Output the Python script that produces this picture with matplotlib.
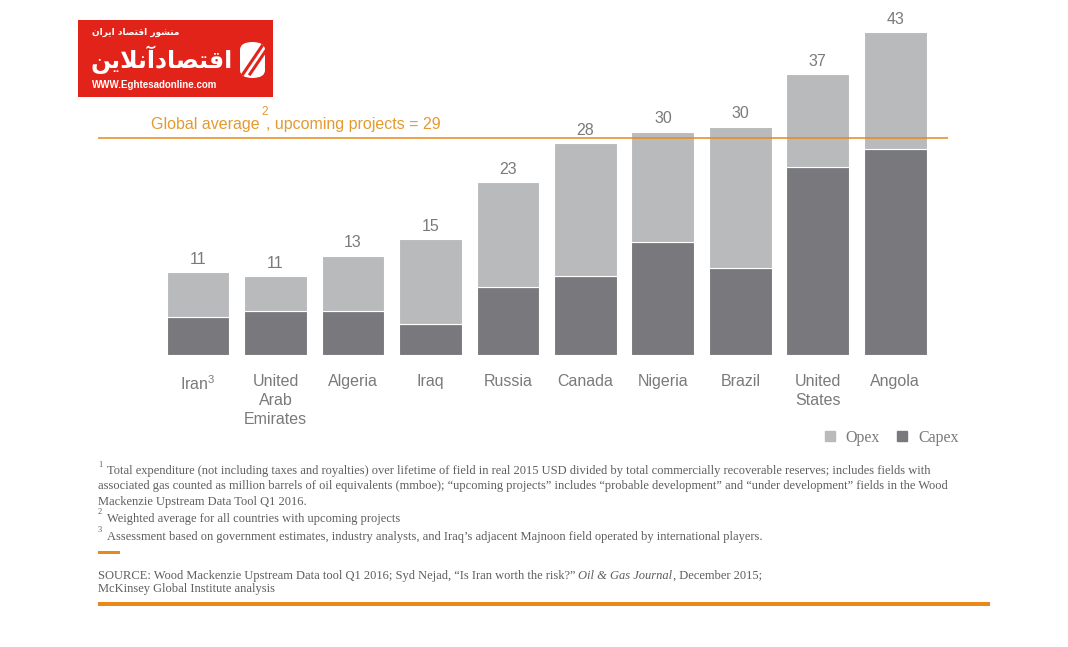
import numpy as np
import matplotlib
matplotlib.use('Agg')
import matplotlib.pyplot as plt
from matplotlib.patches import Rectangle, FancyBboxPatch
from matplotlib.lines import Line2D

# ---------------------------------------------------------------------
# data
# ---------------------------------------------------------------------
countries = ['Iran$^{3}$', 'United\nArab\nEmirates', 'Algeria', 'Iraq', 'Russia',
             'Canada', 'Nigeria', 'Brazil', 'United\nStates', 'Angola']
capex = [5.1, 5.9, 5.9, 4.1, 9.1, 10.5, 15.0, 11.6, 25.0, 27.4]
total = [11.0, 10.5, 13.2, 15.4, 23.0, 28.2, 29.7, 30.4, 37.4, 43.0]
total_labels = ['11', '11', '13', '15', '23', '28', '30', '30', '37', '43']
global_avg = 28.9

footnote_1 = [
    'Total expenditure (not including taxes and royalties) over lifetime of field in real 2015 USD divided by total commercially recoverable reserves; includes fields with',
    'associated gas counted as million barrels of oil equivalents (mmboe); \u201cupcoming projects\u201d includes \u201cprobable development\u201d and \u201cunder development\u201d fields in the Wood',
    'Mackenzie Upstream Data Tool Q1 2016.',
]
footnote_2 = 'Weighted average for all countries with upcoming projects'
footnote_3 = 'Assessment based on government estimates, industry analysts, and Iraq\u2019s adjacent Majnoon field operated by international players.'
source_1 = ['SOURCE: Wood Mackenzie Upstream Data tool Q1 2016; Syd Nejad, \u201cIs Iran worth the risk?\u201d',
            'Oil & Gas Journal', ', December 2015;']
source_2 = 'McKinsey Global Institute analysis'

logo_top = '\u0645\u0646\u0634\u0648\u0631 \u0627\u0642\u062a\u0635\u0627\u062f \u0627\u06cc\u0631\u0627\u0646'
logo_big = '\u0627\u0642\u062a\u0635\u0627\u062f\u0622\u0646\u0644\u0627\u06cc\u0646'
logo_url = 'WWW.Eghtesadonline.com'

OPEX = '#B9BABC'
CAPEX = '#79797D'
GREY_TXT = '#7A7A7A'
ORANGE = '#E8891A'
ORANGE_TXT = '#E39A30'
NOTE_TXT = '#5E5E5E'
LOGO_RED = '#E2231A'

plt.rcParams['mathtext.fontset'] = 'custom'
plt.rcParams['mathtext.rm'] = 'Liberation Sans'
plt.rcParams['mathtext.it'] = 'Liberation Sans'
SANS = 'Liberation Sans'
SERIF = 'Liberation Serif'

# ---------------------------------------------------------------------
# tiny persian shaper (matplotlib has no shaping / bidi)
# ---------------------------------------------------------------------
FORMS = {  # isolated, final, initial, medial
    '\u0627': ('\uFE8D', '\uFE8E', None, None),
    '\u0622': ('\uFE81', '\uFE82', None, None),
    '\u062f': ('\uFEA9', '\uFEAA', None, None),
    '\u0631': ('\uFEAD', '\uFEAE', None, None),
    '\u0648': ('\uFEED', '\uFEEE', None, None),
    '\u0642': ('\uFED5', '\uFED6', '\uFED7', '\uFED8'),
    '\u062a': ('\uFE95', '\uFE96', '\uFE97', '\uFE98'),
    '\u0635': ('\uFEB9', '\uFEBA', '\uFEBB', '\uFEBC'),
    '\u0646': ('\uFEE5', '\uFEE6', '\uFEE7', '\uFEE8'),
    '\u0644': ('\uFEDD', '\uFEDE', '\uFEDF', '\uFEE0'),
    '\u0645': ('\uFEE1', '\uFEE2', '\uFEE3', '\uFEE4'),
    '\u0634': ('\uFEB5', '\uFEB6', '\uFEB7', '\uFEB8'),
    '\u06cc': ('\uFEEF', '\uFEF0', '\uFEF3', '\uFEF4'),
    '\u064a': ('\uFEF1', '\uFEF2', '\uFEF3', '\uFEF4'),
}
LAM_ALEF = {'\u0627': ('\uFEFB', '\uFEFC'), '\u0622': ('\uFEF5', '\uFEF6')}


def shape(s):
    out, prev, i = [], False, 0
    while i < len(s):
        c = s[i]
        if c not in FORMS:
            out.append(c)
            prev = False
            i += 1
            continue
        if c == '\u0644' and i + 1 < len(s) and s[i + 1] in LAM_ALEF:
            out.append(LAM_ALEF[s[i + 1]][1 if prev else 0])
            prev = False
            i += 2
            continue
        iso, fin, ini, med = FORMS[c]
        nxt_ok = ini is not None and i + 1 < len(s) and s[i + 1] in FORMS
        if prev and nxt_ok:
            out.append(med)
        elif prev:
            out.append(fin)
        elif nxt_ok:
            out.append(ini)
        else:
            out.append(iso)
        prev = nxt_ok
        i += 1
    return ''.join(reversed(out))


# ---------------------------------------------------------------------
# figure
# ---------------------------------------------------------------------
W, H = 1068, 647
fig = plt.figure(figsize=(W / 100, H / 100), dpi=100)
r = fig.canvas.get_renderer()


def fx(px):
    return px / W


def fy(py):
    return 1 - py / H


ax = fig.add_axes([fx(98), fy(355), 850 / W, 355 / H])
x = np.arange(len(countries))
opex = [t - c for t, c in zip(total, capex)]
ax.bar(x, capex, width=0.81, color=CAPEX, edgecolor='white', linewidth=0.8)
ax.bar(x, opex, bottom=capex, width=0.81, color=OPEX, edgecolor='white', linewidth=0.8)
for xi, t, lab in zip(x, total, total_labels):
    ax.annotate(lab, (xi, t), xytext=(0, 4), textcoords='offset points',
                ha='center', va='bottom', fontsize=11.5, color=GREY_TXT, family=SANS)

ax.axhline(global_avg, color=ORANGE, linewidth=1.1)
ax.set_xlim(-1.29, 9.68)
ax.set_ylim(0, 355 / 7.51)
ax.set_xticks(x, countries)
ax.tick_params(length=0, pad=14, labelsize=11.5, labelcolor=GREY_TXT, left=False, labelleft=False)
for lab in ax.get_xticklabels():
    lab.set_family(SANS)
    lab.set_linespacing(1.32)
    lab.set_verticalalignment('top')
for s in ax.spines.values():
    s.set_visible(False)

# average label with raised footnote mark
g1 = fig.text(fx(151), fy(125), 'Global average', fontsize=11.5, color=ORANGE_TXT,
              family=SANS, va='center')
gx = g1.get_window_extent(r).x1
fig.text((gx + 2) / W, fy(112), '2', fontsize=8.5, color=ORANGE_TXT, family=SANS, va='center')
fig.text((gx + 6) / W, fy(125), ', upcoming projects = 29', fontsize=11.5, color=ORANGE_TXT,
         family=SANS, va='center')

# legend
leg_handles = [Line2D([], [], marker='s', linestyle='none', markersize=7, color=OPEX),
               Line2D([], [], marker='s', linestyle='none', markersize=7, color=CAPEX)]
fig.legend(leg_handles, ['Opex', 'Capex'], loc='center left', bbox_to_anchor=(fx(809), fy(438)),
           ncol=2, frameon=False, handlelength=0.8, handletextpad=0.6, columnspacing=1.0,
           prop={'family': SERIF, 'size': 11.5}, labelcolor=GREY_TXT)

# footnotes
fs = 9
sup = 6
fig.text(fx(98), fy(465), '1', fontsize=sup, color=NOTE_TXT, family=SERIF, va='center')
for k, line in enumerate(footnote_1):
    xs = 107 if k == 0 else 98
    fig.text(fx(xs), fy(471 + k * 15.5), line, fontsize=fs, color=NOTE_TXT, family=SERIF, va='center')
fig.text(fx(98), fy(512), '2', fontsize=sup, color=NOTE_TXT, family=SERIF, va='center')
fig.text(fx(107), fy(519), footnote_2, fontsize=fs, color=NOTE_TXT, family=SERIF, va='center')
fig.text(fx(98), fy(530), '3', fontsize=sup, color=NOTE_TXT, family=SERIF, va='center')
fig.text(fx(107), fy(537), footnote_3, fontsize=fs, color=NOTE_TXT, family=SERIF, va='center')

fig.patches.append(Rectangle((fx(98), fy(553.5)), 22 / W, 3 / H, transform=fig.transFigure,
                             color=ORANGE, lw=0))

t1 = fig.text(fx(98), fy(576), source_1[0], fontsize=fs, color=NOTE_TXT, family=SERIF, va='center')
x1 = t1.get_window_extent(r).x1 + 3
t2 = fig.text(x1 / W, fy(576), source_1[1], fontsize=fs, color=NOTE_TXT, family=SERIF,
              style='italic', va='center')
x2 = t2.get_window_extent(r).x1
fig.text(x2 / W, fy(576), source_1[2], fontsize=fs, color=NOTE_TXT, family=SERIF, va='center')
fig.text(fx(98), fy(589), source_2, fontsize=fs, color=NOTE_TXT, family=SERIF, va='center')

fig.patches.append(Rectangle((fx(98), fy(606)), 892 / W, 4 / H, transform=fig.transFigure,
                             color=ORANGE, lw=0))

# logo
fig.patches.append(Rectangle((fx(78), fy(97)), 195 / W, 77 / H, transform=fig.transFigure,
                             color=LOGO_RED, lw=0))
fig.text(fx(92), fy(32), shape(logo_top), fontsize=6.5, color='white', weight='bold',
         family='DejaVu Sans', va='center')
big = fig.text(fx(91), fy(60), shape(logo_big), fontsize=20, color='white', weight='bold',
               family='DejaVu Sans', va='center')
bw = big.get_window_extent(r).width
big.set_fontsize(20 * 143 / bw)
fig.text(fx(92), fy(85), logo_url, fontsize=7, color='white', weight='bold',
         family=SANS, va='center')
# swoosh badge
fig.patches.append(FancyBboxPatch((fx(240), fy(78)), 25 / W, 36 / H, transform=fig.transFigure,
                                  boxstyle='round,pad=0,rounding_size=0.012', color='white', lw=0))
for off in (0, 7):
    fig.add_artist(Line2D([fx(243 + off), fx(262 + off)], [fy(74), fy(46)],
                          transform=fig.transFigure, color=LOGO_RED, lw=2.2))

fig.savefig('out.png', dpi=100)
